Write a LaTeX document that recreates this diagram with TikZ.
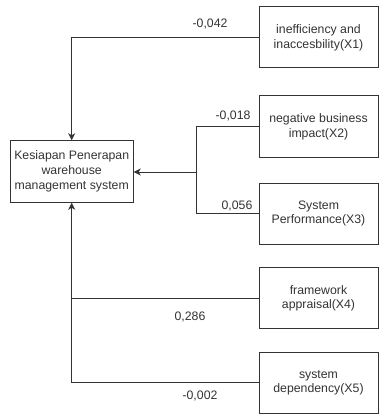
\documentclass[tikz,border=0pt]{standalone}
\usepackage{fontspec}
\setmainfont{Liberation Sans}
\usetikzlibrary{arrows.meta}
\definecolor{ink}{HTML}{333333}
\begin{document}
\begin{tikzpicture}[x=1pt,y=-1pt,
  box/.style={draw=ink,line width=1pt,rectangle,minimum width=119pt,minimum height=61pt,align=center,text=ink,inner sep=0pt,font=\fontsize{12.3pt}{14.8pt}\selectfont},
  conn/.style={draw=ink,line width=1pt},
  arr/.style={conn,-{Stealth[length=7pt,width=7pt,inset=2pt]}},
  lab/.style={text=ink,inner sep=0pt,font=\fontsize{12.3pt}{14.8pt}\selectfont}]
\useasboundingbox (0,0) rectangle (379,417);
\node[box,minimum width=123pt,minimum height=61.5pt] (m) at (71.7,171.5) {Kesiapan Penerapan\\warehouse\\management system};
\node[box] (x1) at (318.5,37.5) {inefficiency and\\inaccesbility(X1)};
\node[box] (x2) at (318.5,126.5) {negative business\\impact(X2)};
\node[box] (x3) at (318.5,213.5) {System\\Performance(X3)};
\node[box] (x4) at (318.5,298.3) {framework\\appraisal(X4)};
\node[box] (x5) at (318.5,382.8) {system\\dependency(X5)};
\coordinate (j) at (196,172);
\draw[arr] (x1.west) -| (m.north);
\draw[conn] (x2.west) -| (j);
\draw[conn] (x3.west) -| (j);
\draw[arr] (j) -- (j -| m.east);
\draw[conn] (x4.west) -- (x4.west -| m.south);
\draw[arr] (x5.west) -| (m.south);
\node[lab] (l1) at (210,24) {-0,042};
\node[lab] (l2) at (233,116) {-0,018};
\node[lab] (l3) at (237,206) {0,056};
\node[lab] (l4) at (190,317) {0,286};
\node[lab] (l5) at (200,396) {-0,002};
\end{tikzpicture}
\end{document}
